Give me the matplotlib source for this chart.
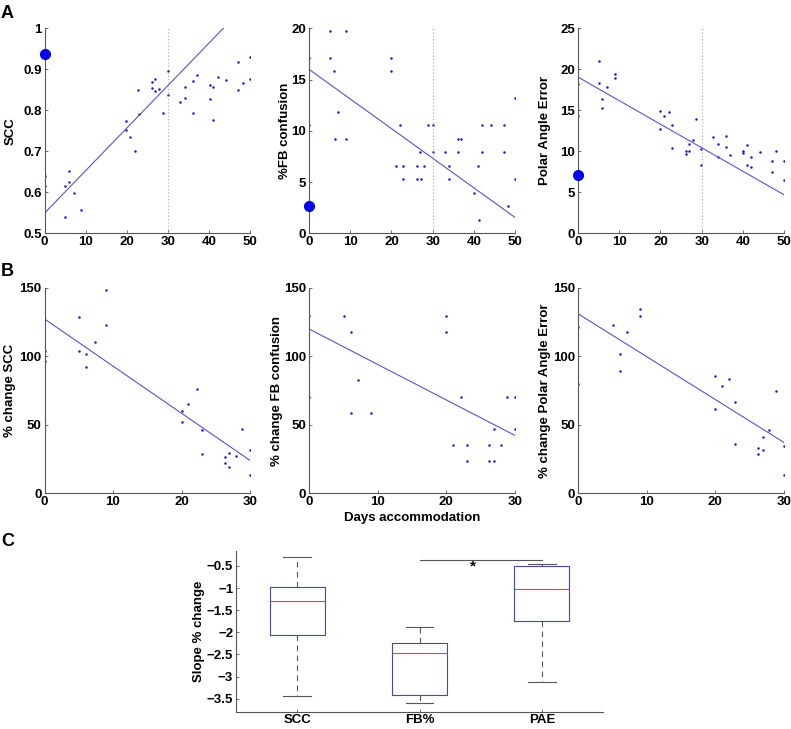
import matplotlib
matplotlib.use("Agg")
import matplotlib.pyplot as plt
import numpy as np

plt.rcParams['font.family'] = ['Liberation Sans', 'DejaVu Sans']
plt.rcParams['font.weight'] = 'bold'
plt.rcParams['axes.labelweight'] = 'bold'

# ---------------- Panel A data ----------------
scc_days = [0, 0, 5.0, 5.1, 5.85, 5.9, 7.1, 8.9, 19.8, 19.8, 20.9, 22.0, 22.8, 22.9,
            26.2, 26.2, 26.9, 26.9, 27.8, 28.9, 30.0, 30.0, 33.0, 34.1, 34.1, 36.1,
            36.2, 37.0, 40.2, 40.3, 41.1, 41.1, 42.2, 44.2, 47.2, 47.2, 48.4, 50.1, 50.1]
scc_vals = [0.640, 0.616, 0.616, 0.540, 0.624, 0.652, 0.598, 0.558, 0.775, 0.751,
            0.735, 0.701, 0.849, 0.792, 0.868, 0.854, 0.876, 0.846, 0.852, 0.793,
            0.895, 0.838, 0.821, 0.858, 0.831, 0.871, 0.793, 0.887, 0.862, 0.828,
            0.857, 0.776, 0.882, 0.874, 0.918, 0.850, 0.867, 0.929, 0.877]
scc_ref = 0.937
scc_fit = (0.549, 0.01037)  # intercept, slope

fb_days = [0, 0, 5.1, 5.1, 6.0, 6.2, 7.1, 9.1, 9.1, 19.9, 19.9, 21.0, 22.2, 22.9,
           22.9, 26.2, 26.2, 27.0, 27.1, 27.9, 29.0, 30.0, 30.0, 33.0, 34.1, 34.1,
           36.1, 36.2, 37.0, 40.1, 41.1, 41.2, 42.1, 42.1, 44.2, 47.3, 47.3, 48.2,
           50.1, 50.1]
fb_vals = [17.11, 10.53, 19.74, 17.11, 15.79, 9.21, 11.84, 19.74, 9.21, 17.11,
           15.79, 6.58, 10.53, 6.58, 5.26, 6.58, 5.26, 7.89, 5.26, 6.58, 10.53,
           10.53, 7.89, 7.89, 6.58, 5.26, 9.21, 7.89, 9.21, 3.95, 6.58, 1.32,
           10.53, 7.89, 10.53, 10.53, 7.89, 2.63, 13.16, 5.26]
fb_ref = 2.63
fb_fit = (16.0, -0.289)

pae_days = [0, 0, 5.0, 5.0, 5.9, 5.9, 7.1, 9.0, 9.0, 19.8, 19.8, 20.8, 22.0, 22.9,
            22.9, 26.1, 26.1, 26.9, 26.9, 27.8, 28.7, 29.9, 29.9, 32.8, 34.0, 34.0,
            35.9, 36.0, 36.8, 40.0, 40.0, 40.9, 41.0, 42.1, 42.1, 44.1, 47.2, 47.2,
            48.1, 50.0, 50.0]
pae_vals = [18.17, 14.35, 21.0, 18.37, 16.42, 15.24, 17.89, 19.39, 18.98, 14.96,
            12.72, 14.31, 14.76, 13.17, 10.45, 10.08, 9.72, 10.89, 10.04, 11.34,
            13.94, 10.33, 8.29, 11.71, 10.89, 9.27, 11.87, 10.53, 9.51, 10.04,
            9.8, 10.81, 8.29, 9.35, 8.09, 9.88, 8.78, 7.52, 10.08, 8.82, 6.5]
pae_ref = 7.11
pae_fit = (19.05, -0.287)

# ---------------- Panel B data ----------------
pscc_days = [0, 0, 5.1, 5.1, 6.1, 6.1, 7.3, 9.0, 9.0, 20.0, 20.0, 21.0, 22.2, 23.0,
             23.0, 26.3, 26.3, 27.0, 27.0, 28.0, 28.9, 30.0, 30.0]
pscc_vals = [104.0, 96.8, 128.6, 104.0, 101.9, 92.4, 110.1, 148.0, 123.0, 60.1,
             52.3, 65.5, 76.3, 46.4, 28.7, 26.7, 22.4, 29.7, 19.5, 27.5, 46.7,
             31.9, 13.4]
pscc_fit = (127.2, -3.44)

pfb_days = [0, 0, 5.1, 6.1, 6.1, 7.2, 9.0, 20.0, 20.0, 21.0, 22.1, 23.0, 23.0,
            26.2, 26.2, 27.0, 27.0, 27.9, 28.9, 30.0, 30.0]
pfb_vals = [129.6, 70.5, 129.6, 117.9, 58.8, 82.7, 58.8, 129.6, 117.9, 35.5, 70.5,
            35.5, 23.6, 35.5, 23.6, 47.2, 23.6, 35.5, 70.5, 70.5, 47.2]
pfb_fit = (119.9, -2.59)

ppae_days = [0, 0, 5.1, 6.1, 6.1, 7.2, 9.0, 9.0, 19.9, 19.9, 20.9, 22.0, 22.9,
             22.9, 26.2, 26.2, 26.9, 26.9, 27.8, 28.8, 30.0, 30.0]
ppae_vals = [121.1, 79.5, 123.0, 101.7, 89.3, 117.9, 134.1, 129.3, 85.3, 61.3,
             78.3, 83.4, 66.4, 36.2, 32.8, 28.4, 41.3, 31.8, 46.2, 74.6, 34.8, 13.1]
ppae_fit = (131.0, -3.13)

# ---------------- Panel C data ----------------
box_labels = ['SCC', 'FB%', 'PAE']
box_whislo = [-3.43, -3.60, -3.13]
box_q1 = [-2.05, -3.42, -1.75]
box_med = [-1.30, -2.47, -1.03]
box_q3 = [-0.97, -2.24, -0.49]
box_whishi = [-0.30, -1.87, -0.45]
sig_pair = (2, 3)
sig_y = -0.37

# ---------------- Styling ----------------
W, H = 791, 729
fig = plt.figure(figsize=(W / 100, H / 100), dpi=100)

FS = 9
AXCOL = '#555555'
DOTCOL = '#1a1acc'
LINECOL = '#5555cc'


def px_axes(left, top, right, bottom):
    ax = fig.add_axes([left / W, 1 - bottom / H, (right - left) / W, (bottom - top) / H])
    ax._px = (left, top, right, bottom)
    return ax


def place_ylabel(ax, xc):
    left, top, right, bottom = ax._px
    ax.yaxis.set_label_coords((xc - left) / (right - left), 0.5)
    ax.yaxis.label.set_verticalalignment('center')


def style(ax):
    for s in ['top', 'right']:
        ax.spines[s].set_visible(False)
    for s in ['left', 'bottom']:
        ax.spines[s].set_color(AXCOL)
        ax.spines[s].set_linewidth(0.8)
    ax.tick_params(direction='in', length=2.5, width=0.6, color=AXCOL,
                   labelsize=FS + 0.5, pad=2)
    for lab in ax.get_xticklabels() + ax.get_yticklabels():
        lab.set_fontweight('bold')


def scatter_panel(ax, days, vals, fit, xmax, ylim, yticks, ylabel, ylab_x, ref=None,
                  vline=None, xlabel=None):
    ax.plot(days, vals, linestyle='none', marker='o', markersize=1.8,
            color=DOTCOL, markeredgewidth=0)
    xs = np.array([0, xmax])
    ax.plot(xs, fit[0] + fit[1] * xs, color=LINECOL, linewidth=0.8)
    if ref is not None:
        ax.plot([0], [ref], marker='o', markersize=7, color='#0000ee',
                linestyle='none', clip_on=False, zorder=5)
    if vline is not None:
        ax.axvline(vline, color='#aaaaaa', linestyle=(0, (1, 2)), linewidth=0.8)
    ax.set_xlim(0, xmax)
    ax.set_ylim(*ylim)
    ax.set_yticks(yticks)
    ax.set_yticklabels(['%g' % t for t in yticks])
    ax.set_xticks(np.arange(0, xmax + 1, 10))
    ax.set_ylabel(ylabel, fontsize=FS + 0.5, fontweight='bold')
    place_ylabel(ax, ylab_x)
    if xlabel:
        ax.set_xlabel(xlabel, fontsize=FS + 0.5, fontweight='bold', labelpad=3)
    style(ax)


# Row A
a1 = px_axes(44.5, 28.3, 250, 233.3)
scatter_panel(a1, scc_days, scc_vals, scc_fit, 50, (0.5, 1.0),
              [0.5, 0.6, 0.7, 0.8, 0.9, 1.0], 'SCC', 11, ref=scc_ref, vline=30)
a2 = px_axes(309, 28.3, 515, 233.3)
scatter_panel(a2, fb_days, fb_vals, fb_fit, 50, (0, 20), [0, 5, 10, 15, 20],
              '%FB confusion', 285, ref=fb_ref, vline=30)
a3 = px_axes(578, 28.3, 784, 233.3)
scatter_panel(a3, pae_days, pae_vals, pae_fit, 50, (0, 25), [0, 5, 10, 15, 20, 25],
              'Polar Angle Error', 545, ref=pae_ref, vline=30)

# Row B
b1 = px_axes(44.5, 287.7, 250, 493.3)
scatter_panel(b1, pscc_days, pscc_vals, pscc_fit, 30, (0, 150), [0, 50, 100, 150],
              '% change SCC', 10)
b2 = px_axes(309, 287.7, 515, 493.3)
scatter_panel(b2, pfb_days, pfb_vals, pfb_fit, 30, (0, 150), [0, 50, 100, 150],
              '% change FB confusion', 277, xlabel='Days accommodation')
b3 = px_axes(578, 287.7, 784, 493.3)
scatter_panel(b3, ppae_days, ppae_vals, ppae_fit, 30, (0, 150), [0, 50, 100, 150],
              '% change Polar Angle Error', 545)

# Panel C
c = px_axes(236, 551, 603, 711.7)
stats = []
for i in range(3):
    stats.append(dict(label=box_labels[i], whislo=box_whislo[i], q1=box_q1[i],
                      med=box_med[i], q3=box_q3[i], whishi=box_whishi[i], fliers=[]))
c.bxp(stats, positions=[1, 2, 3], widths=0.45, showfliers=False,
      boxprops=dict(color='#4444bb', linewidth=0.8),
      medianprops=dict(color='#dd4444', linewidth=0.8),
      whiskerprops=dict(color='#555555', linestyle=(0, (5, 4)), linewidth=0.8),
      capprops=dict(color='#555555', linewidth=0.8))
c.set_xlim(0.5, 3.5)
c.set_ylim(-3.793, -0.162)
c.set_yticks([-3.5, -3, -2.5, -2, -1.5, -1, -0.5])
c.set_yticklabels(['\u22123.5', '\u22123', '\u22122.5', '\u22122', '\u22121.5', '\u22121', '\u22120.5'])
c.set_ylabel('Slope % change', fontsize=FS + 0.5, fontweight='bold')
place_ylabel(c, 199)
style(c)
c.plot([sig_pair[0], sig_pair[1]], [sig_y, sig_y], color='#555555', linewidth=0.8)
c.text((sig_pair[0] + sig_pair[1]) / 2 - 0.06, sig_y - 0.14, '*', ha='center', va='center',
       fontsize=FS + 2, fontweight='bold')

# Panel letters
fig.text(1 / W, 1 - 13 / H, 'A', fontsize=13, fontweight='bold', va='center', ha='left')
fig.text(1 / W, 1 - 272 / H, 'B', fontsize=13, fontweight='bold', va='center', ha='left')
fig.text(1 / W, 1 - 541 / H, 'C', fontsize=13, fontweight='bold', va='center', ha='left')

fig.savefig('out.png', dpi=100)
